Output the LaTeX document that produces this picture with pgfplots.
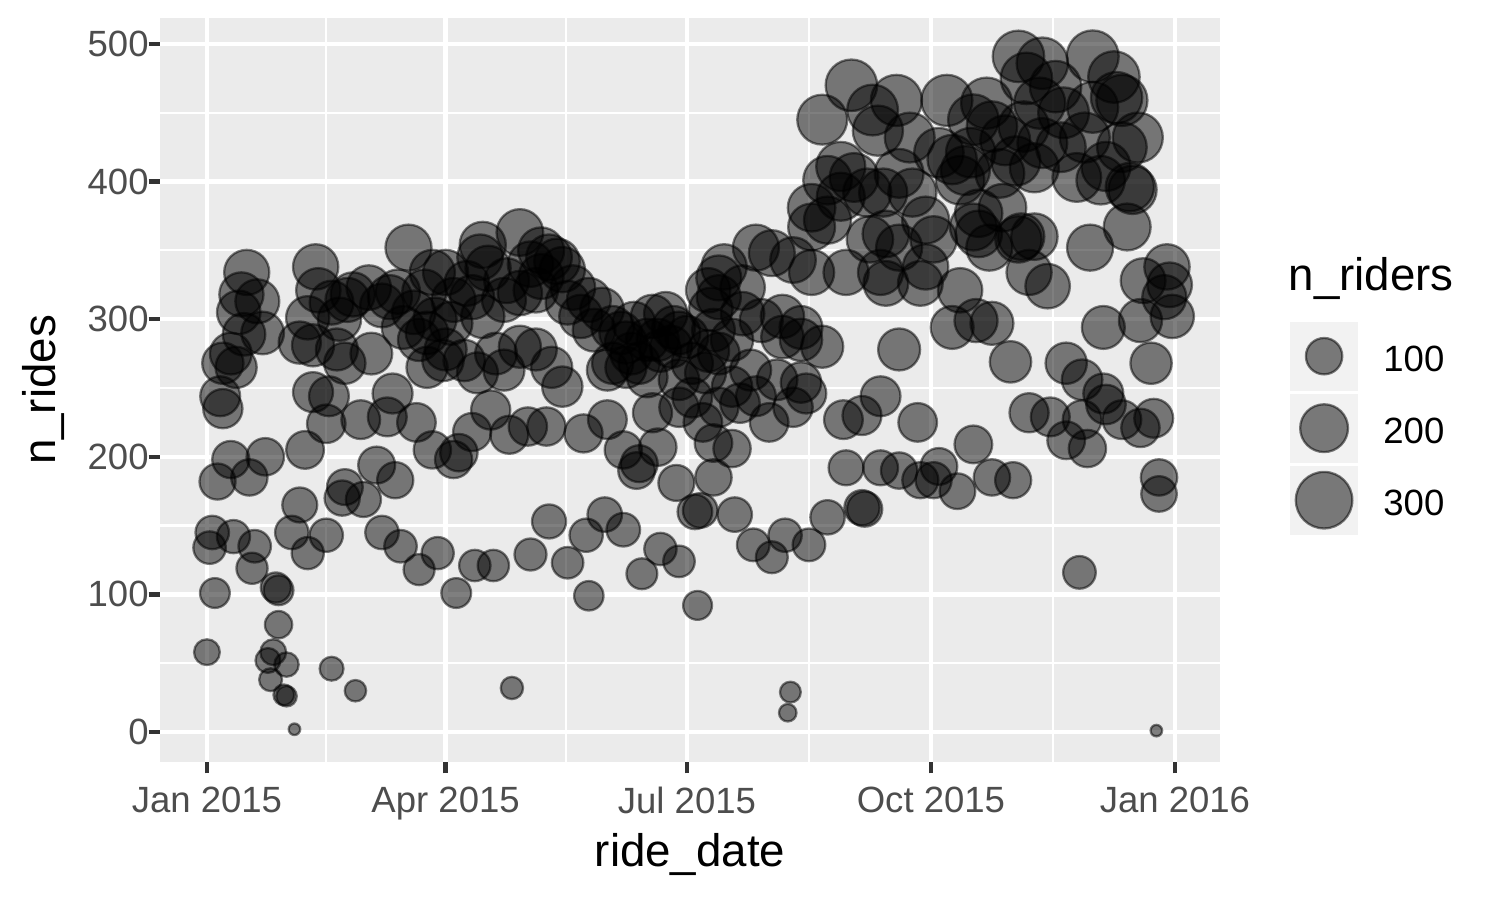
\documentclass[border=0pt]{standalone}
\usepackage{fontspec}
\setmainfont{Liberation Sans}
\usepackage{pgfplots}
\usepackage{pgfplotstable}
\pgfplotsset{compat=1.18}
\definecolor{panelbg}{HTML}{EBEBEB}
\definecolor{keybg}{HTML}{F2F2F2}
\definecolor{ticklab}{HTML}{4D4D4D}
\definecolor{tickcol}{HTML}{333333}
\pgfplotstableread{
day rides riders
0 58 38
1 134 74
2 145 80
3 101 58
4 182 98
5 244 127
6 235 122
6 268 139
9 275 143
9 198 106
10 142 78
11 265 138
12 305 159
13 318 165
14 289 150
15 334 174
16 185 100
17 119 66
18 135 74
19 313 163
21 290 151
22 200 108
23 52 34
24 38 26
25 58 38
26 105 60
27 103 58
27 78 45
29 27 19
30 26 18
30 49 32
33 2 1
32 145 80
35 165 90
35 283 147
37 205 110
38 130 72
38 301 157
40 281 146
40 247 128
41 338 176
42 321 167
45 143 79
45 224 116
46 244 127
47 46 30
47 312 162
49 278 145
50 300 156
51 170 92
52 178 96
52 268 139
53 314 163
55 318 165
56 30 21
58 227 118
59 169 91
61 323 168
62 275 143
64 194 104
66 145 80
66 310 161
68 229 119
69 316 164
70 246 128
71 183 99
72 320 166
73 135 74
74 294 153
76 352 183
78 305 159
79 225 117
80 118 65
80 285 148
82 320 166
83 265 138
83 290 151
85 334 174
85 205 107
86 300 156
87 130 72
89 270 140
90 334 174
90 278 145
92 297 154
93 314 163
93 198 106
94 101 58
95 203 108
97 270 140
98 326 170
100 316 164
100 218 113
101 121 67
102 261 136
103 345 179
104 354 184
104 302 157
106 337 175
107 234 122
108 121 67
109 275 143
112 314 163
112 263 137
113 328 171
114 216 112
115 32 24
118 363 189
118 319 166
118 280 146
121 222 115
122 129 71
122 340 177
124 321 167
124 278 145
126 350 182
126 331 172
128 222 115
129 153 84
129 345 179
130 265 138
132 342 178
134 336 175
134 251 131
136 123 68
136 312 162
138 323 168
141 302 157
142 217 113
143 143 79
144 314 163
144 99 56
146 292 152
149 307 160
150 158 87
151 263 137
151 227 118
153 294 153
153 268 139
156 290 151
157 205 107
157 147 81
158 283 147
158 265 138
160 275 143
161 297 154
162 190 102
163 268 139
163 195 104
164 115 64
166 285 148
166 258 134
168 302 157
168 232 121
170 207 108
170 285 148
171 277 144
171 133 73
173 304 158
175 280 146
176 294 153
177 181 97
178 256 133
178 236 123
178 290 151
178 124 68
181 287 149
183 268 139
183 243 126
184 160 88
185 92 53
186 161 88
187 225 117
188 261 136
189 277 144
189 321 167
190 307 160
191 292 152
191 210 109
191 185 100
193 330 172
193 316 164
193 275 143
193 236 123
195 338 176
198 285 148
198 251 131
198 206 107
199 158 87
201 239 124
202 323 168
202 304 158
205 263 137
206 136 75
207 352 183
207 244 127
209 299 155
212 225 117
213 348 181
213 127 70
215 256 133
217 302 157
217 287 149
218 143 79
219 14 10
220 29 19
221 343 178
221 236 123
224 294 153
224 285 148
224 254 132
226 246 128
227 136 75
228 381 198
228 367 191
228 334 174
232 445 222
232 280 146
234 372 193
234 401 208
234 156 86
239 411 214
239 389 202
240 227 118
241 334 174
241 192 90
243 470 240
244 403 210
247 230 120
247 163 92
248 162 92
249 392 204
250 358 186
251 452 232
253 437 225
254 334 174
254 244 127
254 192 90
255 392 204
256 362 188
256 326 170
260 459 236
261 406 211
261 352 183
261 278 145
261 190 100
265 432 222
266 392 204
268 225 117
269 326 170
269 183 98
271 372 193
271 338 176
274 358 186
274 183 98
276 421 218
276 193 103
279 459 236
281 416 216
281 294 153
283 175 95
284 401 208
284 321 167
286 408 212
288 421 218
289 445 230
289 367 191
289 209 110
290 299 155
291 377 196
291 362 188
294 457 236
295 352 183
296 440 228
296 297 154
296 185 100
299 406 211
300 381 198
301 430 222
303 269 140
304 183 98
305 415 215
306 491 240
306 358 186
307 360 187
308 440 228
309 475 240
310 334 174
310 232 121
312 360 187
312 410 213
314 457 236
315 486 240
315 428 222
317 324 168
318 229 119
320 469 240
322 425 220
323 450 232
324 268 139
324 212 110
328 403 210
329 116 75
330 256 133
330 227 118
331 432 224
332 206 107
333 352 183
334 491 245
334 454 234
337 401 208
338 294 153
338 246 128
339 411 214
339 238 124
342 476 240
343 461 238
345 459 236
345 425 220
345 227 118
347 367 191
348 396 206
349 394 205
351 432 224
352 299 155
352 221 115
353 328 171
356 268 139
357 228 119
358 1 1
359 185 100
359 173 94
361 316 164
362 338 176
363 325 169
364 302 157
}\ridedata
\begin{document}
\begin{tikzpicture}
\path[use as bounding box] (0,0) rectangle (360bp,216bp);
\begin{axis}[
  at={(38.4bp,33.12bp)}, anchor=south west,
  scale only axis, width=254.4bp, height=178.56bp,
  xmin=-17.7, xmax=382, ymin=-21.8, ymax=518.9,
  axis background/.style={fill=panelbg},
  axis line style={draw=none},
  grid=both,
  major grid style={white, line width=1.07bp},
  minor grid style={white, line width=0.53bp},
  xtick={0,90,181,273,365},
  xticklabels={Jan 2015, Apr 2015, Jul 2015, Oct 2015, Jan 2016},
  minor xtick={45,135.5,227,319},
  ytick={0,100,...,500},
  minor ytick={50,150,...,450},
  xtick pos=bottom, ytick pos=left,
  tick align=outside,
  major tick length=2.75pt, minor tick length=0pt,
  tick style={color=tickcol, line width=1.07bp},
  /pgf/number format/assume math mode=true,
  tick label style={font=\fontsize{8.8}{10}\selectfont, text=ticklab},
  yticklabel style={inner sep=0pt, xshift=0.2pt},
  xticklabel style={inner sep=0pt, yshift=-3pt},
  label style={font=\fontsize{11}{13}\selectfont},
  xlabel={ride\_date},
  ylabel={n\_rides},
  xlabel style={at={(axis description cs:0.5,-0.1398)}, anchor=base},
  ylabel style={at={(axis description cs:-0.099,0.5)}, anchor=base},
  legend style={at={(1.065,0.5927)}, anchor=north west, draw=none, fill=none,
    inner sep=0pt, row sep=0.8bp, column sep=6bp,
    nodes={inner sep=0pt},
    font=\fontsize{8.8}{10}\selectfont},
  legend cell align=left,
  legend image code/.code={
    \begin{scope}[yshift=1.4pt]
    \fill[keybg] (-8.04bp,-8.04bp) rectangle (8.04bp,8.04bp);
    \draw[#1] plot coordinates {(0bp,0bp)};
    \end{scope}
  },
]
\addplot[only marks, mark=*, scatter, forget plot,
  scatter/use mapped color={draw=black, fill=black},
  point meta=\thisrow{riders},
  visualization depends on={\thisrow{riders} \as \nr},
  scatter/@pre marker code/.append style={/tikz/mark size={1.06+0.332*sqrt(\nr)}},
  mark options={fill opacity=0.5, draw opacity=0.5, line width=0.55bp}]
  table[x=day, y=rides] {\ridedata};
\addlegendimage{only marks, mark=*, black, mark size=4.38pt, mark options={fill=black, fill opacity=0.5, draw opacity=0.5, line width=0.55bp}}
\addlegendentry{100}
\addlegendimage{only marks, mark=*, black, mark size=5.76pt, mark options={fill=black, fill opacity=0.5, draw opacity=0.5, line width=0.55bp}}
\addlegendentry{200}
\addlegendimage{only marks, mark=*, black, mark size=6.81pt, mark options={fill=black, fill opacity=0.5, draw opacity=0.5, line width=0.55bp}}
\addlegendentry{300}
\end{axis}
\node[anchor=base west, font=\fontsize{11}{13}\selectfont, inner sep=0pt] at (309.1bp,146.2bp) {n\_riders};
\end{tikzpicture}
\end{document}
